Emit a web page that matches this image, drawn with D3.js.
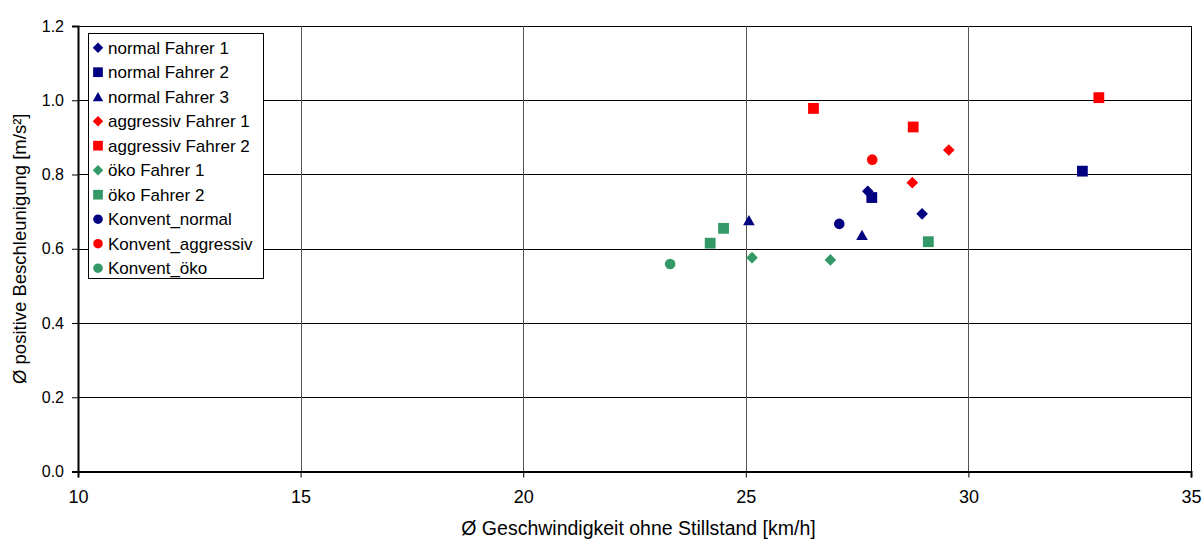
<!DOCTYPE html>
<html>
<head>
<meta charset="utf-8">
<script src="https://cdn.jsdelivr.net/npm/d3@7"></script>
<style>
  html, body { margin: 0; padding: 0; background: #fff; }
  svg { display: block; font-family: Arial, "Liberation Sans", sans-serif; }
</style>
</head>
<body>
<svg id="chart" width="1203" height="539"></svg>
<script>
// ---- data ----
const xTicks = [10, 15, 20, 25, 30, 35];
const yTicks = [0.0, 0.2, 0.4, 0.6, 0.8, 1.0, 1.2];
const xTitle = "Ø Geschwindigkeit ohne Stillstand [km/h]";
const yTitle = "Ø positive Beschleunigung [m/s²]";

const seriesNames = ["normal Fahrer 1", "normal Fahrer 2", "normal Fahrer 3",
  "aggressiv Fahrer 1", "aggressiv Fahrer 2", "öko Fahrer 1", "öko Fahrer 2",
  "Konvent_normal", "Konvent_aggressiv", "Konvent_öko"];
const seriesShapes = ["diamond", "square", "triangle", "diamond", "square",
  "diamond", "square", "circle", "circle", "circle"];
const seriesColors = ["#000080", "#000080", "#000080", "#FF0000", "#FF0000",
  "#339966", "#339966", "#000080", "#FF0000", "#339966"];

const normalF1X = [27.74, 28.96],        normalF1Y = [0.755, 0.694];
const normalF2X = [27.83, 32.56],        normalF2Y = [0.738, 0.809];
const normalF3X = [25.07, 27.61],        normalF3Y = [0.677, 0.637];
const aggrF1X   = [29.56, 28.74],        aggrF1Y   = [0.866, 0.778];
const aggrF2X   = [26.52, 28.76, 32.93], aggrF2Y   = [0.978, 0.928, 1.007];
const oekoF1X   = [25.14, 26.90],        oekoF1Y   = [0.576, 0.570];
const oekoF2X   = [24.50, 24.20, 29.10], oekoF2Y   = [0.655, 0.615, 0.619];
const konvNormalX = [27.10], konvNormalY = [0.667];
const konvAggrX   = [27.84], konvAggrY   = [0.840];
const konvOekoX   = [23.30], konvOekoY   = [0.559];

const seriesX = [normalF1X, normalF2X, normalF3X, aggrF1X, aggrF2X, oekoF1X, oekoF2X, konvNormalX, konvAggrX, konvOekoX];
const seriesY = [normalF1Y, normalF2Y, normalF3Y, aggrF1Y, aggrF2Y, oekoF1Y, oekoF2Y, konvNormalY, konvAggrY, konvOekoY];

// ---- layout ----
const W = 1203, H = 539;
const L = 78, R = 1191, T = 26, B = 471.5;

const svg = d3.select("#chart");
const x = d3.scaleLinear().domain([10, 35]).range([L, R]);
const y = d3.scaleLinear().domain([0, 1.2]).range([B, T]);

// marker shapes
function shapePath(shape) {
  const p = d3.path();
  if (shape === "square") { const s = 5.4; p.rect(-s, -s, 2 * s, 2 * s); }
  else if (shape === "diamond") { const s = 5.8; p.moveTo(0, -s); p.lineTo(s, 0); p.lineTo(0, s); p.lineTo(-s, 0); p.closePath(); }
  else if (shape === "triangle") { p.moveTo(0, -5.2); p.lineTo(5.8, 5); p.lineTo(-5.8, 5); p.closePath(); }
  else { p.arc(0, 0, 5.3, 0, 2 * Math.PI); p.closePath(); }
  return p.toString();
}

// gridlines
const grid = svg.append("g").attr("shape-rendering", "crispEdges");
grid.selectAll("line.h").data(yTicks.slice(1)).join("line")
  .attr("x1", L).attr("x2", R).attr("y1", d => Math.round(y(d)) + 0.5).attr("y2", d => Math.round(y(d)) + 0.5)
  .attr("stroke", "#000").attr("stroke-width", 1);
grid.selectAll("line.v").data(xTicks.slice(1)).join("line")
  .attr("y1", T).attr("y2", B).attr("x1", d => Math.round(x(d)) + 0.5).attr("x2", d => Math.round(x(d)) + 0.5)
  .attr("stroke", d => d === 35 ? "#000" : "#555").attr("stroke-width", 1);

// axes
const xAxis = d3.axisBottom(x).tickValues(xTicks).tickSize(6).tickPadding(8).tickFormat(d3.format("d"));
const gx = svg.append("g").attr("transform", `translate(0,${B})`).call(xAxis);
gx.select(".domain").attr("stroke", "#000").attr("stroke-width", 2);
gx.selectAll(".tick line").attr("stroke", "#000");
gx.selectAll(".tick text").attr("font-size", "18px").attr("fill", "#000")
  .attr("font-family", "Arial, 'Liberation Sans', sans-serif").attr("dy", "0.95em");

const yAxis = d3.axisLeft(y).tickValues(yTicks).tickSize(6).tickPadding(8).tickFormat(d3.format(".1f"));
const gy = svg.append("g").attr("transform", `translate(${L},0)`).call(yAxis);
gy.select(".domain").attr("stroke", "#000").attr("stroke-width", 2);
gy.selectAll(".tick line").attr("stroke", "#000");
gy.selectAll(".tick text").attr("font-size", "16px").attr("fill", "#000")
  .attr("font-family", "Arial, 'Liberation Sans', sans-serif");
gx.select(".domain").raise();

// axis titles
svg.append("text").attr("x", (L + R) / 2 + 4).attr("y", 535).attr("text-anchor", "middle")
  .attr("font-size", "19.5px").attr("fill", "#000").text(xTitle);
svg.append("text").attr("transform", `translate(26,${(T + B) / 2}) rotate(-90)`).attr("text-anchor", "middle")
  .attr("font-size", "18.5px").attr("fill", "#000").text(yTitle);

// points
const pts = svg.append("g");
seriesNames.forEach((name, i) => {
  const data = seriesX[i].map((vx, j) => [vx, seriesY[i][j]]);
  pts.append("g").selectAll("path").data(data).join("path")
    .attr("transform", d => `translate(${x(d[0])},${y(d[1])})`)
    .attr("d", shapePath(seriesShapes[i]))
    .attr("fill", seriesColors[i]);
});

// legend
const lg = svg.append("g");
lg.append("rect").attr("x", 88.5).attr("y", 33.5).attr("width", 175).attr("height", 245)
  .attr("fill", "#fff").attr("stroke", "#000").attr("stroke-width", 1);
seriesNames.forEach((name, i) => {
  const cy = 47.7 + i * 24.5;
  lg.append("path").attr("transform", `translate(98,${cy})`).attr("d", shapePath(seriesShapes[i]))
    .attr("fill", seriesColors[i]).attr("transform", `translate(98,${cy}) scale(0.9)`);
  lg.append("text").attr("x", 108).attr("y", cy + 6.2).attr("font-size", "17px").attr("fill", "#000").text(name);
});
</script>
</body>
</html>
